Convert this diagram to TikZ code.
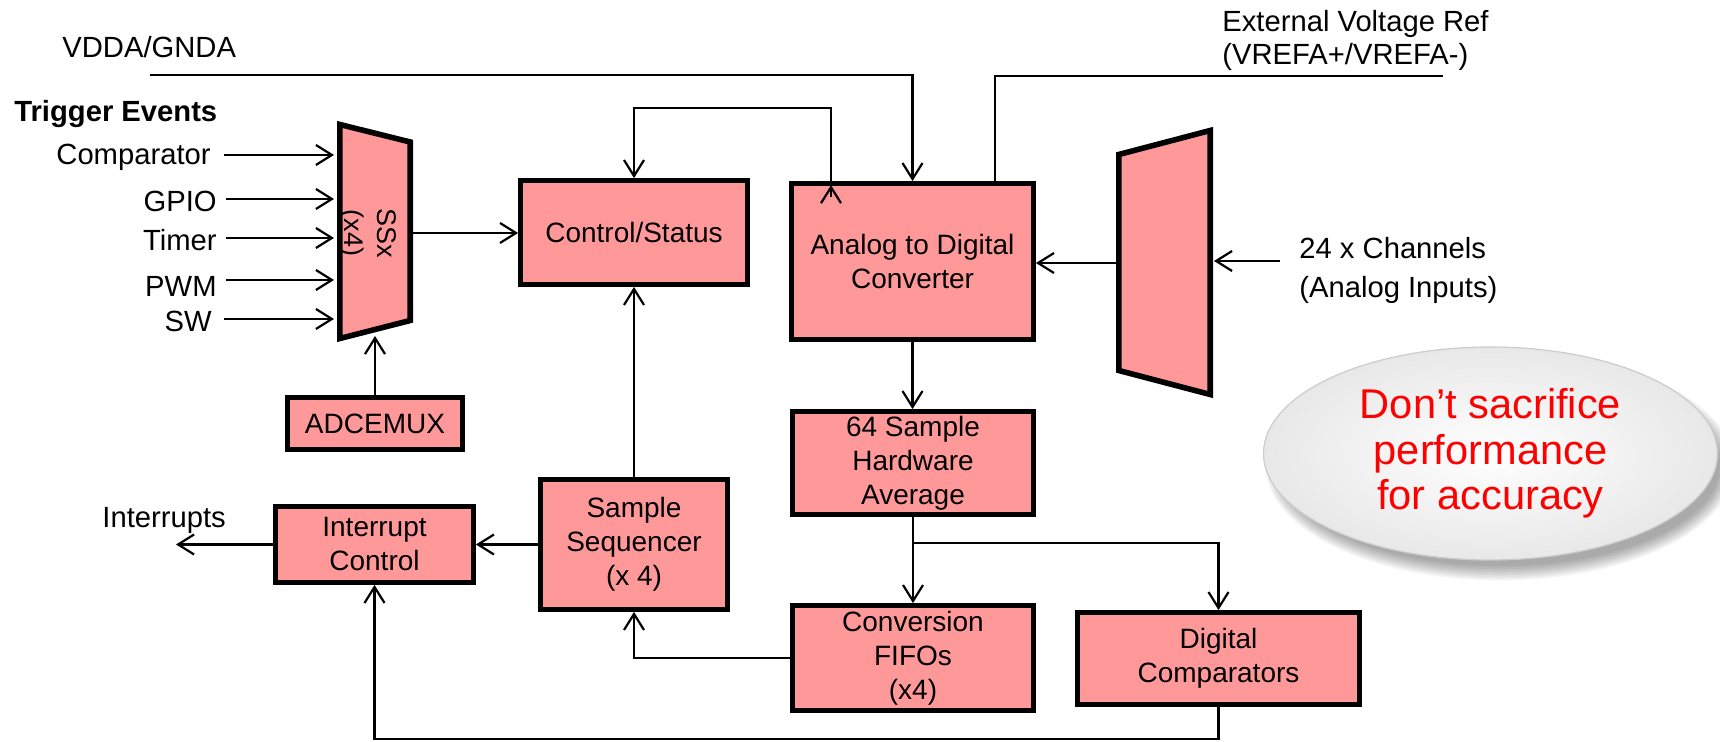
\documentclass[tikz,border=0pt]{standalone}
\usepackage{fontspec}
\setmainfont{Liberation Sans}
\usetikzlibrary{arrows.meta,shapes.geometric}
\definecolor{boxpink}{RGB}{255,153,153}
\definecolor{msgred}{RGB}{255,0,0}
\begin{document}
\begin{tikzpicture}[x=0.5pt,y=-0.5pt,
  box/.style={draw=black, line width=2.4pt, fill=boxpink, align=center, inner sep=0pt,
    font=\fontsize{14}{17}\selectfont},
  lbl/.style={inner sep=0pt, font=\fontsize{14.6}{18}\selectfont},
  wire/.style={line width=1.1pt},
  arr/.style={wire, -{Straight Barb[length=8pt,width=10pt]}},
  muxshape/.style={draw=black, line width=2.8pt, fill=boxpink, line join=miter},
]
\useasboundingbox (0,0) rectangle (1720,742);

% ---- boxes ----
\node[box, minimum width=113.5pt, minimum height=52pt] (ctrl) at (634,232.5) {Control/Status};
\node[box, minimum width=121pt, minimum height=78pt] (adc) at (912.5,261.5) {Analog to Digital\\Converter};
\node[box, minimum width=120.5pt, minimum height=51.5pt] (avg) at (913,463) {64 Sample\\Hardware\\Average};
\node[box, minimum width=120.5pt, minimum height=52.5pt] (fifo) at (913,658) {Conversion\\FIFOs\\(x4)};
\node[box, minimum width=141pt, minimum height=46pt] (dcmp) at (1218.5,658.5) {Digital\\Comparators};
\node[box, minimum width=93.5pt, minimum height=65pt] (seq) at (634,544.5) {Sample\\Sequencer\\(x 4)};
\node[box, minimum width=99pt, minimum height=38pt] (intc) at (374.5,544.5) {Interrupt\\Control};
\node[box, minimum width=87.5pt, minimum height=26pt] (emux) at (375,423.5) {ADCEMUX};

% ---- SSx trapezoid ----
\draw[muxshape] (339.8,124.5) -- (410.2,142) -- (410.2,320.5) -- (339.8,338.5) -- cycle;
\node[lbl, rotate=-90, font=\fontsize{13.5}{16}\selectfont] (ssx) at (387,233) {SSx};
\node[lbl, rotate=-90, font=\fontsize{13.5}{16}\selectfont] (ssx4) at (351,233) {(x4)};
\coordinate (ssR) at (413,233);
\coordinate (ssB) at (375,336);
\coordinate (ssL1) at (334,155);
\coordinate (ssL2) at (334,199);
\coordinate (ssL3) at (334,238);
\coordinate (ssL4) at (334,280);
\coordinate (ssL5) at (334,319);

% ---- analog input mux ----
\draw[muxshape] (1118.8,154.5) -- (1210.2,130.5) -- (1210.2,394.5) -- (1118.8,370.5) -- cycle;
\coordinate (muxL) at (1116,263);
\coordinate (muxR) at (1214,261);

% ---- labels ----
\node[lbl, anchor=base west] (vdda) at (62,58) {VDDA/GNDA};
\node[lbl, anchor=base west, font=\fontsize{14.6}{18}\selectfont\bfseries] (trig) at (14,122) {Trigger Events};
\node[lbl, anchor=base east] (cmp) at (211,165) {Comparator};
\node[lbl, anchor=base east] (gpio) at (217,212) {GPIO};
\node[lbl, anchor=base east] (tmr) at (217,251) {Timer};
\node[lbl, anchor=base east] (pwm) at (217,297) {PWM};
\node[lbl, anchor=base east] (sw) at (212,332) {SW};
\node[lbl, anchor=base west] (vref1) at (1222,32) {External Voltage Ref};
\node[lbl, anchor=base west] (vref2) at (1222,65) {(VREFA+/VREFA-)};
\node[lbl, anchor=base west] (ch1) at (1299,259) {24 x Channels};
\node[lbl, anchor=base west] (ch2) at (1299,298) {(Analog Inputs)};
\node[lbl, anchor=base west] (irq) at (102,528) {Interrupts};

% ---- message ellipse ----
\foreach \r in {0,1,...,9}
  \fill[black, opacity=0.04] (1500,466) ellipse [x radius={110pt+\r*0.8pt}, y radius={50pt+\r*0.8pt}];
\node[ellipse, draw=gray!40, line width=0.6pt, inner color=white, outer color=gray!18,
  minimum width=227pt, minimum height=106.5pt, inner sep=0pt, align=center, text=msgred,
  font=\fontsize{20.8}{22.7}\selectfont] (msg) at (1490.5,453.5)
  {Don’t sacrifice\\performance\\for accuracy};

% ---- connectors ----
\coordinate (vddaS) at (150,75);
\draw[arr] (vddaS) -| (adc.north);
\coordinate (vrefE) at (1443,76);
\draw[wire] ([xshift=41.25pt]adc.north) |- (vrefE);

\coordinate (loopT) at (700,108);
\draw[arr] ([xshift=-40.75pt]adc.north) -- ([xshift=-40.75pt]adc.north |- loopT) -| (ctrl.north);
\draw[arr] ([xshift=-40.75pt,yshift=-8pt]adc.north) -- ([xshift=-40.75pt,yshift=-2pt]adc.north);

\draw[arr] ([xshift=6.5pt]cmp.east |- ssL1) -- (ssL1);
\draw[arr] ([xshift=4.5pt]gpio.east |- ssL2) -- (ssL2);
\draw[arr] ([xshift=4.5pt]tmr.east |- ssL3) -- (ssL3);
\draw[arr] ([xshift=4.5pt]pwm.east |- ssL4) -- (ssL4);
\draw[arr] ([xshift=6pt]sw.east |- ssL5) -- (ssL5);

\draw[arr] (ssR) -- (ssR -| ctrl.west);
\draw[arr] (emux.north) -- (ssB);
\draw[arr] (seq.north) -- (ctrl.south);
\draw[arr] (seq.west) -- (intc.east);
\coordinate (irqE) at (176,544.5);
\draw[arr] (intc.west) -- (irqE);

\draw[arr] (muxL) -- (muxL -| adc.east);
\draw[arr] ([xshift=-9.5pt]ch1.west |- muxR) -- (muxR);

\draw[arr] (adc.south) -- (adc.south |- avg.north);
\draw[arr] (avg.south) -- (fifo.north);
\coordinate (br) at (913,543);
\draw[arr] (avg.south |- br) -| (dcmp.north);
\draw[arr] (fifo.west) -| (seq.south);
\coordinate (botY) at (700,739);
\draw[arr] (dcmp.south) -- (dcmp.south |- botY) -| (intc.south);
\end{tikzpicture}
\end{document}
